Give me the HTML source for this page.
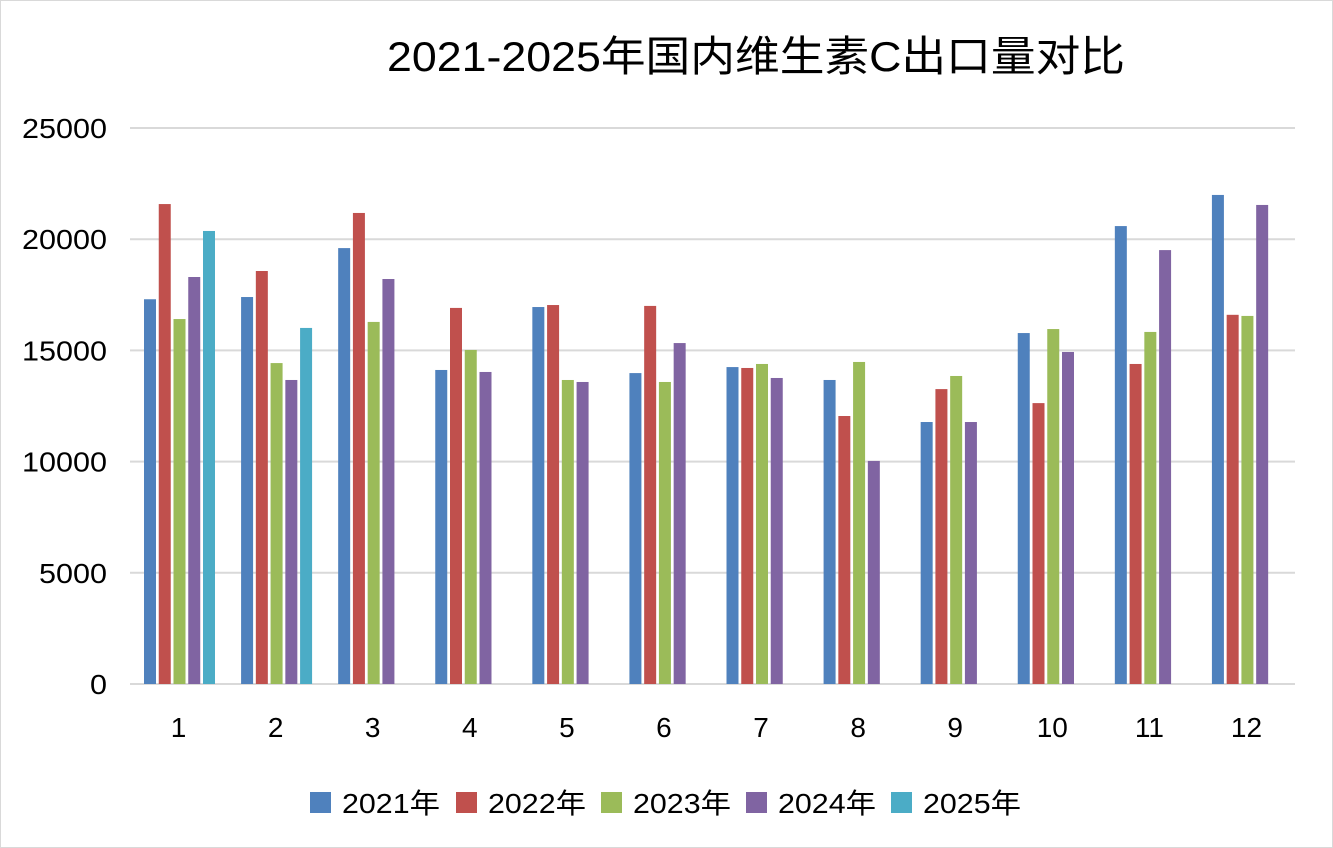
<!DOCTYPE html>
<html><head><meta charset="utf-8"><style>
body{margin:0;background:#fff;}
svg{display:block;font-family:"Liberation Sans","Noto Sans CJK SC",sans-serif;}
</style></head><body>
<svg id="chart" width="1333" height="848">
<rect x="0.5" y="0.5" width="1332" height="847" fill="#fff" stroke="#d9d9d9"/>
<text x="756" y="71" font-size="42" text-anchor="middle" textLength="738" lengthAdjust="spacingAndGlyphs" fill="#000">2021-2025年国内维生素C出口量对比</text>
<g id="grid"></g><g id="bars"></g><g id="labels"></g><g id="legend"></g>
</svg>
<script>
const categories=["1","2","3","4","5","6","7","8","9","10","11","12"];
const seriesNames=["2021年","2022年","2023年","2024年","2025年"];
const colors=["#4f81bd","#c0504d","#9bbb59","#8064a2","#4bacc6"];
const s2021=[17300,17400,19600,14120,16950,13980,14250,13670,11780,15780,20590,21990];
const s2022=[21580,18570,21180,16910,17040,17000,14210,12050,13260,12630,14390,16600];
const s2023=[16410,14430,16280,15020,13670,13580,14390,14480,13850,15960,15830,16550];
const s2024=[18300,13670,18210,14030,13580,15330,13760,10030,11780,14930,19510,21540];
const s2025=[20370,16010,null,null,null,null,null,null,null,null,null,null];
const yTicks=[0,5000,10000,15000,20000,25000];
const series=[s2021,s2022,s2023,s2024,s2025];
const NS="http://www.w3.org/2000/svg";
const x0=130,x1=1295,yBase=684,yTop=128,yMax=25000;
const gw=(x1-x0)/categories.length;
function y(v){return yBase-(v/yMax)*(yBase-yTop);}
function mk(t,a,p){const e=document.createElementNS(NS,t);for(const k in a)e.setAttribute(k,a[k]);p.appendChild(e);return e;}
const grid=document.getElementById('grid'),bars=document.getElementById('bars'),labels=document.getElementById('labels'),legend=document.getElementById('legend');
yTicks.forEach(v=>{
 const l=mk('line',{x1:x0,x2:x1,y1:y(v),y2:y(v),stroke:'#d9d9d9','stroke-width':2},grid);
 
 
 const s=String(v);
 const t=mk('text',{x:107,y:y(v)+10,'font-size':28,'text-anchor':'end',fill:'#000',textLength:s.length*17,lengthAdjust:'spacingAndGlyphs'},labels);
 t.textContent=s;
 
 
});
categories.forEach((c,i)=>{
 series.forEach((s,j)=>{
  const v=s[i]; if(v==null)return;
  const r=mk('rect',{x:x0+gw*i+14+j*14.75,y:y(v),width:12,height:yBase-y(v),fill:colors[j]},bars);
  
  
 });
 const t=mk('text',{x:x0+gw*i+gw/2,y:737,'font-size':28,'text-anchor':'middle',fill:'#000'},labels);
 t.textContent=c;
 
 
});
const lx=[310,456,601,746,891];
seriesNames.forEach((n,j)=>{
 const g=mk('g',{},legend);
 
 
 mk('rect',{x:lx[j],y:792,width:21,height:21,fill:colors[j]},g);
 const t=mk('text',{x:lx[j]+32,y:813,'font-size':28,fill:'#000',textLength:98,lengthAdjust:'spacingAndGlyphs'},g);
 t.textContent=n;
});
</script>
</body></html>
